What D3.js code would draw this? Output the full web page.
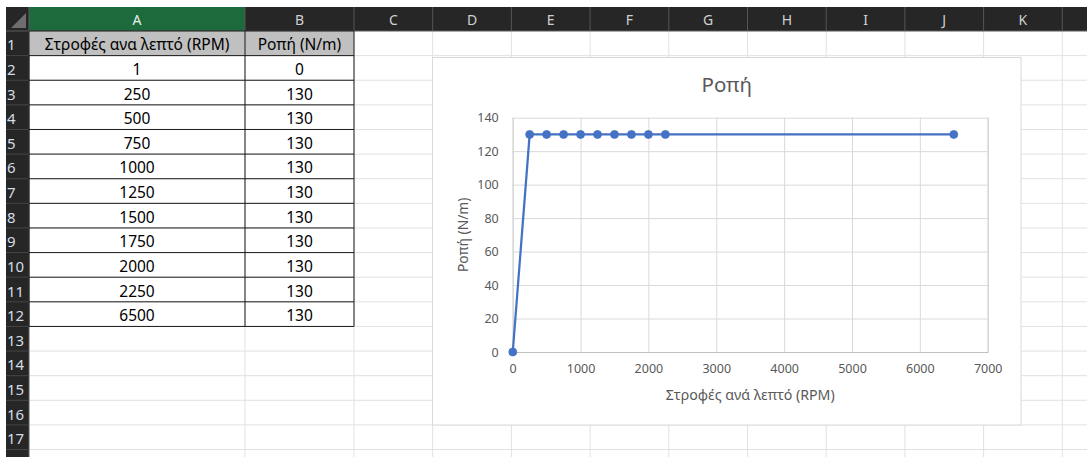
<!DOCTYPE html>
<html>
<head>
<meta charset="utf-8">
<script src="https://cdn.jsdelivr.net/npm/d3@7"></script>
<style>
  html, body { margin: 0; padding: 0; background: #ffffff; }
  svg { display: block; }
  text { font-family: "Noto Sans", "Open Sans", sans-serif; }
</style>
</head>
<body>
<svg id="sheet" width="1087" height="457"></svg>
<script>
// Worksheet data
const headers = ["Στροφές ανα λεπτό (RPM)", "Ροπή (N/m)"];
const rpm = [1, 250, 500, 750, 1000, 1250, 1500, 1750, 2000, 2250, 6500];
const torque = [0, 130, 130, 130, 130, 130, 130, 130, 130, 130, 130];
const columnLetters = ["A", "B", "C", "D", "E", "F", "G", "H", "I", "J", "K"];

// Chart labels and ticks
const chartTitle = "Ροπή";
const xAxisTitle = "Στροφές ανά λεπτό (RPM)";
const yAxisTitle = "Ροπή (N/m)";
const xTicks = [0, 1000, 2000, 3000, 4000, 5000, 6000, 7000];
const yTicks = [0, 20, 40, 60, 80, 100, 120, 140];

const svg = d3.select("#sheet");
const W = 1087, H = 457;

// ---- Spreadsheet grid geometry ----
const headerTop = 7, headerBottom = 31;
const rowHeaderLeft = 6, rowHeaderRight = 29;
const rowH = 24.62;
const nRows = 18;
const colEdges = [29, 245, 354];
for (let k = 1; k <= 10; k++) colEdges.push(354 + k * 78.7);
const rowTop = r => headerBottom + (r - 1) * rowH;

// cell gridlines
const grid = svg.append("g");
for (let r = 1; r <= nRows; r++) {
  grid.append("line").attr("x1", rowHeaderRight).attr("x2", W)
    .attr("y1", rowTop(r) + rowH).attr("y2", rowTop(r) + rowH)
    .attr("stroke", "#e1e1e1").attr("stroke-width", 1);
}
colEdges.slice(1).forEach(x => {
  grid.append("line").attr("x1", x).attr("x2", x)
    .attr("y1", headerBottom).attr("y2", H)
    .attr("stroke", "#e1e1e1").attr("stroke-width", 1);
});

// column header band
svg.append("rect").attr("x", rowHeaderLeft).attr("y", headerTop)
  .attr("width", W - rowHeaderLeft).attr("height", headerBottom - headerTop)
  .attr("fill", "#262626");
// selected column A
svg.append("rect").attr("x", colEdges[0]).attr("y", headerTop)
  .attr("width", colEdges[1] - colEdges[0]).attr("height", headerBottom - headerTop)
  .attr("fill", "#1d6b3c");
colEdges.slice(1).forEach(x => {
  svg.append("line").attr("x1", x).attr("x2", x)
    .attr("y1", headerTop).attr("y2", headerBottom)
    .attr("stroke", "#555555").attr("stroke-width", 1);
});
columnLetters.forEach((c, i) => {
  svg.append("text")
    .attr("x", (colEdges[i] + colEdges[i + 1]) / 2)
    .attr("y", (headerTop + headerBottom) / 2 + 5.5)
    .attr("text-anchor", "middle")
    .attr("font-size", 14)
    .attr("fill", i === 0 ? "#e8f0ea" : "#d0d0d0")
    .text(c);
});

// row header band
svg.append("rect").attr("x", rowHeaderLeft).attr("y", headerBottom)
  .attr("width", rowHeaderRight - rowHeaderLeft).attr("height", H - headerBottom)
  .attr("fill", "#262626");
svg.append("line").attr("x1", rowHeaderRight).attr("x2", rowHeaderRight)
  .attr("y1", headerTop).attr("y2", H).attr("stroke", "#5a5a5a");
svg.append("line").attr("x1", rowHeaderLeft).attr("x2", W)
  .attr("y1", headerBottom).attr("y2", headerBottom).attr("stroke", "#5a5a5a");
for (let r = 1; r <= nRows; r++) {
  svg.append("line").attr("x1", rowHeaderLeft).attr("x2", rowHeaderRight)
    .attr("y1", rowTop(r) + rowH).attr("y2", rowTop(r) + rowH)
    .attr("stroke", "#454545");
  if (r <= 17) {
    svg.append("text").attr("x", 7).attr("y", rowTop(r) + rowH / 2 + 7)
      .attr("font-size", 15).attr("fill", "#d3dce6").text(r);
  }
}
// corner select-all triangle
svg.append("path")
  .attr("d", `M${rowHeaderRight - 3},${headerTop + 6} L${rowHeaderRight - 3},${headerBottom - 3} L${rowHeaderLeft + 5},${headerBottom - 3} Z`)
  .attr("fill", "#6e6e6e");

// ---- Data table A1:B12 ----
const table = svg.append("g");
table.append("rect").attr("x", colEdges[0]).attr("y", rowTop(1))
  .attr("width", colEdges[2] - colEdges[0]).attr("height", rowH)
  .attr("fill", "#c0c0c0");
const tableRows = [headers].concat(rpm.map((v, i) => [String(v), String(torque[i])]));
tableRows.forEach((row, ri) => {
  row.forEach((val, ci) => {
    table.append("text")
      .attr("x", (colEdges[ci] + colEdges[ci + 1]) / 2)
      .attr("y", rowTop(ri + 1) + rowH / 2 + 7)
      .attr("text-anchor", "middle")
      .attr("font-size", 15.5)
      .attr("fill", "#000000")
      .text(val);
  });
});
// cell borders
for (let r = 0; r <= tableRows.length; r++) {
  const yy = rowTop(1) + r * rowH;
  table.append("line").attr("x1", colEdges[0]).attr("x2", colEdges[2])
    .attr("y1", yy).attr("y2", yy).attr("stroke", "#1a1a1a").attr("stroke-width", 1);
}
[0, 1, 2].forEach(ci => {
  table.append("line").attr("x1", colEdges[ci]).attr("x2", colEdges[ci])
    .attr("y1", rowTop(1)).attr("y2", rowTop(1) + tableRows.length * rowH)
    .attr("stroke", "#1a1a1a").attr("stroke-width", 1);
});

// ---- Chart object ----
const box = { x: 432.5, y: 57.5, w: 588.5, h: 367.5 };
const chart = svg.append("g");
chart.append("rect").attr("x", box.x).attr("y", box.y)
  .attr("width", box.w).attr("height", box.h)
  .attr("fill", "#ffffff").attr("stroke", "#d9d9d9").attr("stroke-width", 1);

const plot = { left: 512.7, right: 987.7, top: 117.7, bottom: 352 };
const x = d3.scaleLinear().domain([0, 7000]).range([plot.left, plot.right]);
const y = d3.scaleLinear().domain([0, 140]).range([plot.bottom, plot.top]);
const fmt = d3.format("d");

// y gridlines + labels
const yAxis = chart.append("g").attr("transform", `translate(${plot.left},0)`)
  .call(d3.axisLeft(y).tickValues(yTicks).tickFormat(fmt)
    .tickSize(-(plot.right - plot.left)).tickPadding(14));
yAxis.select(".domain").remove();
yAxis.selectAll(".tick line").attr("stroke", "#d9d9d9");
yAxis.selectAll(".tick text").attr("fill", "#595959").attr("font-size", 12.5)
  .attr("font-family", "Noto Sans, Open Sans, sans-serif");

// x gridlines + labels
const xAxis = chart.append("g").attr("transform", `translate(0,${plot.bottom})`)
  .call(d3.axisBottom(x).tickValues(xTicks).tickFormat(fmt)
    .tickSize(-(plot.bottom - plot.top)).tickPadding(12));
xAxis.select(".domain").attr("stroke", "#bfbfbf");
xAxis.selectAll(".tick line").attr("stroke", "#d9d9d9");
xAxis.selectAll(".tick text").attr("fill", "#595959").attr("font-size", 12.5)
  .attr("font-family", "Noto Sans, Open Sans, sans-serif");

// titles
chart.append("text").attr("x", box.x + box.w / 2).attr("y", 92)
  .attr("text-anchor", "middle").attr("font-size", 20.5).attr("fill", "#595959")
  .text(chartTitle);
chart.append("text").attr("x", (plot.left + plot.right) / 2).attr("y", 400)
  .attr("text-anchor", "middle").attr("font-size", 14.2).attr("fill", "#595959")
  .text(xAxisTitle);
chart.append("text")
  .attr("transform", `translate(468,${(plot.top + plot.bottom) / 2}) rotate(-90)`)
  .attr("text-anchor", "middle").attr("font-size", 13.8).attr("fill", "#595959")
  .text(yAxisTitle);

// series
const pts = rpm.map((v, i) => [v, torque[i]]);
chart.append("path").datum(pts)
  .attr("d", d3.line().x(d => x(d[0])).y(d => y(d[1])))
  .attr("fill", "none").attr("stroke", "#4472c4").attr("stroke-width", 2.25)
  .attr("stroke-linejoin", "round");
chart.selectAll("circle.pt").data(pts).enter().append("circle")
  .attr("class", "pt")
  .attr("cx", d => x(d[0])).attr("cy", d => y(d[1])).attr("r", 4)
  .attr("fill", "#4472c4").attr("stroke", "#4472c4").attr("stroke-width", 0.75);
</script>
</body>
</html>
